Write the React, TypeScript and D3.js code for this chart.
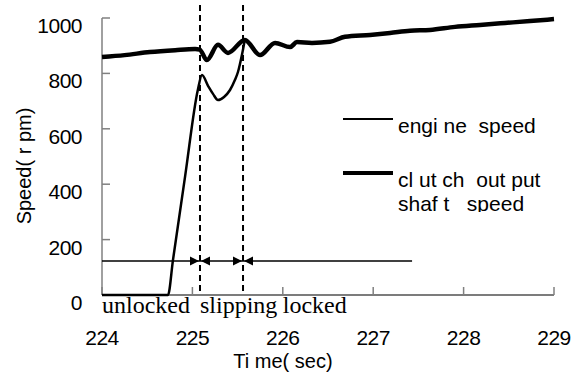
import React from "react";
import * as d3 from "d3";

const xTicks = [224, 225, 226, 227, 228, 229];
const yTicks = [0, 200, 400, 600, 800, 1000];

const clutchTime = [224.0, 224.25, 224.53, 224.81, 225.03, 225.08, 225.16, 225.283, 225.394, 225.58, 225.748, 225.914, 226.08, 226.157, 226.323, 226.522, 226.688, 226.965, 227.186, 227.407, 227.628, 227.905, 228.181, 228.458, 228.735, 229.0];
const clutchSpeed = [859, 866, 877, 884, 888, 886, 848, 903, 874, 921, 866, 910, 895, 913, 910, 914, 932, 939, 946, 954, 957, 968, 975, 982, 989, 996];

const engineTime = [224.0, 224.73, 224.785, 224.92, 225.06, 225.106, 225.173, 225.228, 225.283, 225.35, 225.416, 225.47, 225.504, 225.55, 225.58];
const engineSpeed = [0, 0, 126, 430, 740, 794, 755, 726, 704, 715, 740, 776, 805, 870, 921];

const phaseBoundaries = [225.084, 225.56];
const arrowLevel = 123;
const arrowEnd = 227.43;

const phaseLabels = ["unlocked", "slipping", "locked"];
const phaseLabelTimes = [224.0, 225.084, 226.0];

const legendLabels = ["engi ne  speed", "cl ut ch  out put"];
const legendLine2 = "shaf t   speed";

export default function App() {
  const W = 584, H = 374;
  const x = d3.scaleLinear().domain([224, 229]).range([102, 554]);
  const y = d3.scaleLinear().domain([0, 1000]).range([295, 18]);

  const clutchData = clutchTime.map((t, i) => [t, clutchSpeed[i]] as [number, number]);
  const engineData = engineTime.map((t, i) => [t, engineSpeed[i]] as [number, number]);
  const line = d3.line<[number, number]>().x(d => x(d[0])).y(d => y(d[1])).curve(d3.curveMonotoneX);

  const sans = "'Liberation Sans', Arial, sans-serif";
  const serif = "'Liberation Serif', 'Times New Roman', serif";
  const ay = y(arrowLevel);
  const b1 = x(phaseBoundaries[0]);
  const b2 = x(phaseBoundaries[1]);
  const tri = (tip: number, dir: number) => `M${tip},${ay} L${tip - dir * 9},${ay - 4.5} L${tip - dir * 9},${ay + 4.5} Z`;

  return (
    <svg width={W} height={H} style={{ position: "absolute", left: 0, top: 0, background: "#fff" }}>
      <defs>
        <clipPath id="legclip">
          <rect x={330} y={100} width={254} height={112} />
        </clipPath>
      </defs>
      {/* y axis */}
      <line x1={x(224)} x2={x(224)} y1={y(1000)} y2={y(0)} stroke="#808080" strokeWidth={1.5} />
      {yTicks.map(v => (
        <g key={"yt" + v}>
          <line x1={x(224)} x2={x(224) + 8} y1={y(v)} y2={y(v)} stroke="#808080" strokeWidth={1.5} />
          <text x={82} y={y(v) + 15} textAnchor="end" fontFamily={sans} fontSize={21} letterSpacing={-0.5} fill="#000">{v}</text>
        </g>
      ))}
      {/* x axis */}
      <line x1={x(224)} x2={x(229)} y1={y(0)} y2={y(0)} stroke="#505050" strokeWidth={1.5} />
      {xTicks.map(v => (
        <g key={"xt" + v}>
          <line x1={x(v)} x2={x(v)} y1={y(0)} y2={y(0) - 8} stroke="#808080" strokeWidth={1.5} />
          <text x={x(v)} y={345} textAnchor="middle" fontFamily={sans} fontSize={21} letterSpacing={-0.5} fill="#000">{v}</text>
        </g>
      ))}
      {/* dashed phase boundaries */}
      {phaseBoundaries.map(t => (
        <line key={"pb" + t} x1={x(t)} x2={x(t)} y1={5} y2={y(0)} stroke="#000" strokeWidth={2} strokeDasharray="6,4" />
      ))}
      {/* arrows */}
      <line x1={x(224)} x2={x(arrowEnd)} y1={ay} y2={ay} stroke="#000" strokeWidth={1.5} />
      <path d={tri(b1 - 1, 1)} fill="#000" />
      <path d={tri(b1 + 1, -1)} fill="#000" />
      <path d={tri(b2 - 1, 1)} fill="#000" />
      <path d={tri(b2 + 1, -1)} fill="#000" />
      {/* data */}
      <path d={line(engineData) || ""} fill="none" stroke="#000" strokeWidth={2.5} />
      <path d={line(clutchData) || ""} fill="none" stroke="#000" strokeWidth={4.5} strokeLinejoin="round" />
      {/* phase labels */}
      {phaseLabels.map((l, i) => (
        <text key={l} x={x(phaseLabelTimes[i])} y={313} fontFamily={serif} fontSize={24} fill="#000">{l}</text>
      ))}
      {/* legend */}
      <g clipPath="url(#legclip)">
        <line x1={343} x2={393} y1={119} y2={119} stroke="#000" strokeWidth={2} />
        <text x={398} y={133} fontFamily={sans} fontSize={21} fill="#000" style={{ whiteSpace: "pre" }}>{legendLabels[0]}</text>
        <line x1={343} x2={393} y1={173} y2={173} stroke="#000" strokeWidth={4} />
        <text x={398} y={187} fontFamily={sans} fontSize={21} fill="#000" style={{ whiteSpace: "pre" }}>{legendLabels[1]}</text>
        <text x={398} y={211} fontFamily={sans} fontSize={21} fill="#000" style={{ whiteSpace: "pre" }}>{legendLine2}</text>
      </g>
      {/* axis titles */}
      <text x={283} y={368} textAnchor="middle" fontFamily={sans} fontSize={20} fill="#000" style={{ whiteSpace: "pre" }}>Ti me( sec)</text>
      <text transform={`translate(31,166) rotate(-90)`} textAnchor="middle" fontFamily={sans} fontSize={20} fill="#000" style={{ whiteSpace: "pre" }}>Speed( r pm)</text>
    </svg>
  );
}
